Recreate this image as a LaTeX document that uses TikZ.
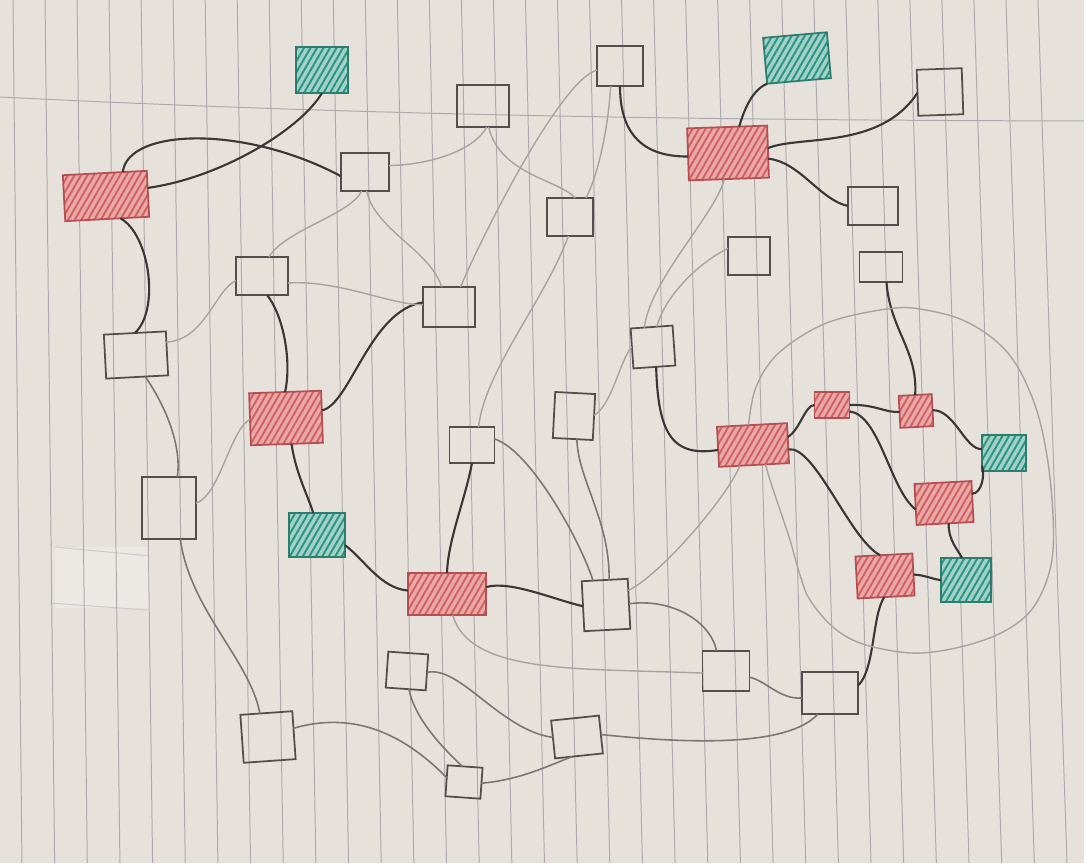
\documentclass[tikz,border=0pt]{standalone}
\usetikzlibrary{patterns.meta}
\definecolor{paper}{RGB}{231,225,219}
\definecolor{tape}{RGB}{236,232,228}
\definecolor{rulec}{RGB}{172,170,173}
\definecolor{pen}{RGB}{82,78,78}
\definecolor{dkline}{RGB}{58,54,54}
\definecolor{mdline}{RGB}{122,118,117}
\definecolor{ltline}{RGB}{168,163,160}
\definecolor{redline}{RGB}{180,80,84}
\definecolor{redfill}{RGB}{232,170,166}
\definecolor{redhatch}{RGB}{212,96,102}
\definecolor{tealline}{RGB}{45,125,110}
\definecolor{tealfill}{RGB}{165,208,198}
\definecolor{tealhatch}{RGB}{40,150,135}
\begin{document}
\begin{tikzpicture}[x=0.01cm,y=-0.01cm,
  sz/.style 2 args={minimum width=#1*0.28453pt, minimum height=#2*0.28453pt},
  ebox/.style={draw=pen, line width=0.5pt, inner sep=0pt, outer sep=0pt},
  rbox/.style={preaction={fill=redfill}, pattern={Lines[angle=60,distance=1.6pt,line width=0.55pt]}, pattern color=redhatch, draw=redline, line width=0.5pt, inner sep=0pt, outer sep=0pt},
  tbox/.style={preaction={fill=tealfill}, pattern={Lines[angle=60,distance=1.6pt,line width=0.55pt]}, pattern color=tealhatch, draw=tealline, line width=0.5pt, inner sep=0pt, outer sep=0pt},
  dk/.style={draw=dkline, line width=0.6pt},
  md/.style={draw=mdline, line width=0.45pt},
  lt/.style={draw=ltline, line width=0.4pt},
  rulel/.style={draw=rulec, line width=0.28pt}]
\useasboundingbox (0,0) rectangle (1088,867);
% paper
\fill[paper] (0,0) rectangle (1088,867);
\fill[tape] (55,547) rectangle (150,608);
\draw[draw=rulec!60, line width=0.3pt] (55,547) -- (150,556);
\draw[draw=rulec!60, line width=0.3pt] (50,603) -- (147,610);
\foreach \i in {0,...,32}
  \draw[rulel] ({13+32.03*\i},0) -- ({22+32.66*\i},867);
\draw[rulel] (0,97) .. controls (300,112) and (600,120) .. (1088,121);
\fill[white] (0,863) rectangle (1088,867);
\fill[white] (1084,0) rectangle (1088,867);

% nodes
\node[tbox, sz={52}{46}] (T1) at (322,70) {};
\node[tbox, sz={64}{46}, rotate=5] (T2) at (797,58) {};
\node[rbox, sz={84}{46}, rotate=3] (R1) at (106,196) {};
\node[rbox, sz={80}{52}, rotate=2] (R2) at (728,153) {};
\node[ebox, sz={46}{40}] (Btop) at (620,66) {};
\node[ebox, sz={52}{42}] (B2) at (483,106) {};
\node[ebox, sz={48}{38}] (B3) at (365,172) {};
\node[ebox, sz={46}{38}] (B4) at (570,217) {};
\node[ebox, sz={45}{46}, rotate=2] (B5) at (940,92) {};
\node[ebox, sz={50}{38}] (B6) at (873,206) {};
\node[ebox, sz={43}{30}] (B7) at (881,267) {};
\node[ebox, sz={42}{38}] (B8) at (749,256) {};
\node[ebox, sz={52}{38}] (B9) at (262,276) {};
\node[ebox, sz={62}{44}, rotate=3] (B10) at (136,355) {};
\node[ebox, sz={52}{40}] (B11) at (449,307) {};
\node[ebox, sz={42}{40}, rotate=4] (B12) at (653,347) {};
\node[ebox, sz={40}{46}, rotate=-3] (B13) at (574,416) {};
\node[ebox, sz={45}{36}] (B14) at (472,445) {};
\node[rbox, sz={72}{52}, rotate=2] (R3) at (286,418) {};
\node[ebox, sz={54}{62}] (B15) at (169,508) {};
\node[tbox, sz={56}{44}] (T3) at (317,535) {};
\node[rbox, sz={78}{42}] (R4) at (447,594) {};
\node[ebox, sz={46}{50}, rotate=3] (B16) at (606,605) {};
\node[ebox, sz={40}{36}, rotate=-4] (B17) at (407,671) {};
\node[ebox, sz={47}{40}] (B18) at (726,671) {};
\node[ebox, sz={56}{42}] (B19) at (830,693) {};
\node[ebox, sz={48}{38}, rotate=6] (B20) at (577,737) {};
\node[ebox, sz={35}{31}, rotate=-4] (B21) at (464,782) {};
\node[ebox, sz={52}{48}, rotate=4] (B22) at (268,737) {};
\node[rbox, sz={70}{40}, rotate=3] (R5) at (753,445) {};
\node[rbox, sz={35}{26}] (R6) at (832,405) {};
\node[rbox, sz={33}{32}, rotate=3] (R7) at (916,411) {};
\node[tbox, sz={44}{36}] (T4) at (1004,453) {};
\node[rbox, sz={57}{41}, rotate=3] (R8) at (944,503) {};
\node[rbox, sz={57}{42}, rotate=3] (R9) at (885,576) {};
\node[tbox, sz={50}{44}] (T5) at (966,580) {};

% dark connectors
\draw[dk] (R1.52) .. controls (128,128) and (245,125) .. (B3.190);
\draw[dk] (R1.8) .. controls (220,178) and (300,130) .. (T1.south);
\draw[dk] (R1.-60) .. controls (150,235) and (160,310) .. (B10.north);
\draw[dk] (B9.-75) .. controls (283,315) and (292,360) .. (R3.north);
\draw[dk] (R3.10) .. controls (350,405) and (370,310) .. (B11.170);
\draw[dk] (R3.-80) .. controls (296,475) and (310,500) .. (T3.100);
\draw[dk] (T3.-20) .. controls (365,560) and (380,588) .. (R4.175);
\draw[dk] (B14.south) .. controls (465,500) and (448,540) .. (R4.north);
\draw[dk] (R4.10) .. controls (510,580) and (555,600) .. (B16.west);
\draw[dk] (Btop.south) .. controls (620,125) and (635,157) .. (R2.183);
\draw[dk] (T2.south west) .. controls (752,90) and (744,110) .. (R2.65);
\draw[dk] (R2.5) .. controls (800,135) and (880,150) .. (B5.west);
\draw[dk] (R2.-10) .. controls (800,162) and (820,200) .. (B6.west);
\draw[dk] (B7.-70) .. controls (890,330) and (918,350) .. (R7.north);
\draw[dk] (R5.10) .. controls (800,430) and (805,405) .. (R6.west);
\draw[dk] (R6.east) .. controls (875,404) and (885,413) .. (R7.west);
\draw[dk] (R6.-20) .. controls (880,415) and (890,490) .. (R8.190);
\draw[dk] (R7.east) .. controls (955,410) and (965,450) .. (T4.170);
\draw[dk] (T4.210) .. controls (985,475) and (982,493) .. (R8.15);
\draw[dk] (R8.-80) .. controls (948,540) and (958,550) .. (T5.100);
\draw[dk] (R5.-10) .. controls (815,445) and (850,540) .. (R9.100);
\draw[dk] (R9.east) .. controls (925,575) and (935,580) .. (T5.west);
\draw[dk] (R9.-95) .. controls (872,615) and (875,670) .. (B19.15);
\draw[dk] (B12.-85) .. controls (658,430) and (670,458) .. (R5.185);

% light connectors
\draw[lt] (B3.15) .. controls (430,165) and (475,150) .. (B2.-80);
\draw[lt] (B2.-75) .. controls (500,175) and (560,180) .. (B4.75);
\draw[lt] (Btop.-115) .. controls (608,130) and (598,175) .. (B4.50);
\draw[lt] (Btop.190) .. controls (560,80) and (480,240) .. (B11.60);
\draw[lt] (B3.-85) .. controls (375,230) and (430,250) .. (B11.110);
\draw[lt] (B3.-100) .. controls (350,215) and (285,230) .. (B9.70);
\draw[lt] (B9.-15) .. controls (340,280) and (390,305) .. (B11.175);
\draw[lt] (B10.20) .. controls (205,340) and (215,290) .. (B9.190);
\draw[lt] (B15.10) .. controls (220,495) and (230,430) .. (R3.west);
\draw[lt] (B4.-95) .. controls (545,300) and (485,370) .. (B14.70);
\draw[lt] (B12.110) .. controls (650,280) and (715,215) .. (R2.-100);
\draw[lt] (B12.75) .. controls (665,295) and (700,262) .. (B8.160);
\draw[lt] (B16.30) .. controls (660,575) and (725,500) .. (R5.-125);
\draw[lt] (B13.5) .. controls (612,405) and (620,360) .. (B12.175);
\draw[lt] plot[smooth, tension=0.6] coordinates {(R5.100) (755,390) (772,360) (800,337) (835,320) (887,309) (920,309) (967,322) (1007,352) (1032,397) (1046,450) (1053,515) (1051,565) (1035,605) (1010,628) (975,643) (933,652) (900,652) (860,643) (833,627) (810,600) (800,575) (790,540) (780,510) (770,480) (R5.-60)};

% medium connectors
\draw[md] (B10.-70) .. controls (165,405) and (182,445) .. (B15.75);
\draw[md] (B15.-70) .. controls (190,610) and (250,660) .. (B22.105);
\draw[md] (B22.15) .. controls (350,712) and (400,730) .. (B21.170);
\draw[md] (B17.-80) .. controls (415,720) and (445,750) .. (B21.100);
\draw[md] (B17.east) .. controls (460,665) and (500,730) .. (B20.175);
\draw[md] (B21.east) .. controls (520,780) and (550,765) .. (B20.-110);
\draw[md] (B20.east) .. controls (700,745) and (790,745) .. (B19.-120);
\draw[lt] (R4.-75) .. controls (470,675) and (580,668) .. (B18.185);
\draw[md] (B16.east) .. controls (670,598) and (710,620) .. (B18.115);
\draw[md] (B18.-15) .. controls (765,680) and (780,700) .. (B19.190);
\draw[md] (B14.15) .. controls (530,450) and (580,540) .. (B16.115);
\draw[md] (B13.-80) .. controls (578,480) and (610,520) .. (B16.80);
\end{tikzpicture}
\end{document}
